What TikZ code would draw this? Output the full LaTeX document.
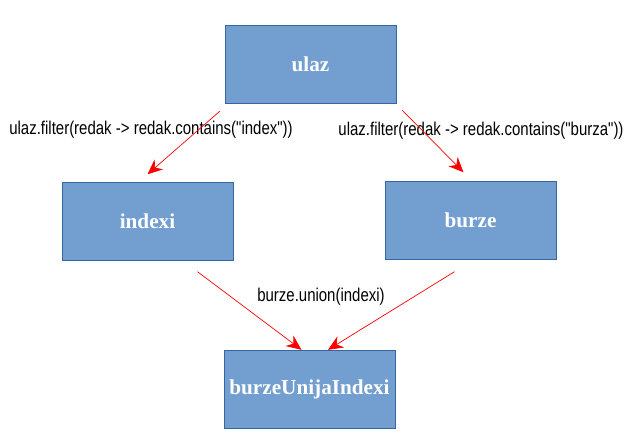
\documentclass[tikz,border=0pt]{standalone}
\usepackage{fontspec}
\setmainfont{Liberation Serif}
\newfontfamily\labelfont[FakeStretch=0.81]{Liberation Sans}
\usepackage{tikz}
\usetikzlibrary{arrows.meta, calc}
\definecolor{boxfill}{HTML}{729FCF}
\definecolor{boxline}{HTML}{3465A4}

\begin{document}
\begin{tikzpicture}[x=1pt, y=-1pt,
    box/.style={rectangle, draw=boxline, fill=boxfill, minimum width=171pt, minimum height=78pt,
        text=white, font=\fontsize{21.2}{25}\selectfont\bfseries},
    flow/.style={draw=red, line width=0.7pt, -{Stealth[length=15pt, width=13pt]}},
    lbl/.style={font=\labelfont\fontsize{18.5}{22}\selectfont}]
    \useasboundingbox (0, 0) rectangle (637, 444);

    % Boxes
    \path
    (310.5, 64) node[box] (ulaz) {ulaz}
    (147.5, 221.5) node[box] (indexi) {indexi}
    (470.5, 220.5) node[box] (burze) {burze}
    (309.5, 389) node[box] (unija) {burzeUnijaIndexi}
    ;

    % Labels
    \path
    (151, 130) node[lbl] (filterIndex) {ulaz.filter(redak -> redak.contains("index"))}
    (481, 131) node[lbl] (filterBurza) {ulaz.filter(redak -> redak.contains("burza"))}
    (321, 297) node[lbl] (union) {burze.union(indexi)}
    ;

    % Edges
    \draw[flow] ($(ulaz.south west)+(-5, 8)$) -- ($(indexi.north)+(0, -8)$);
    \draw[flow] ($(ulaz.south east)+(6, 7)$) -- ($(burze.north)+(-7, -9)$);
    \draw[flow] ($(indexi.south)+(50, 11)$) -- ($(unija.north)+(-8, 0)$);
    \draw[flow] ($(burze.south)+(-16, 12)$) -- ($(unija.north)+(18.5, 0)$);

\end{tikzpicture}
\end{document}
